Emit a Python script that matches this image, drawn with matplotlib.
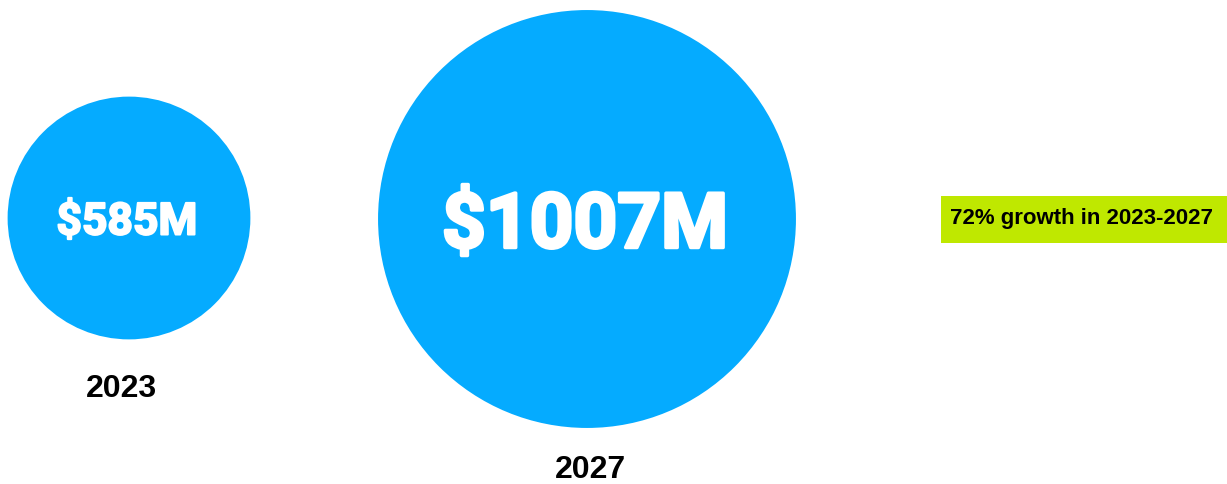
import matplotlib.pyplot as plt
from matplotlib.patches import Circle, Rectangle
import matplotlib.patheffects as pe

# data
years = ['2023', '2027']
values = [585, 1007]
growth_label = '72% growth in 2023-2027'

# layout (pixels)
W, H = 1227, 484
centers_x = [129, 587]
centers_y = [218, 219]
px_per_unit = 0.2075
value_sizes = [32, 55]
year_y = [389, 470]
blue = '#05abff'
lime = '#bfe800'

fig = plt.figure(figsize=(W / 100, H / 100), dpi=100)
ax = fig.add_axes([0, 0, 1, 1])
ax.set_xlim(0, W)
ax.set_ylim(H, 0)
ax.set_aspect('equal')
ax.axis('off')

for cx, cy, v, yr, fs, ty in zip(centers_x, centers_y, values, years, value_sizes, year_y):
    r = v * px_per_unit
    ax.add_patch(Circle((cx, cy), r, color=blue, lw=0))
    ax.text(cx - 2, cy, '${}M'.format(v), color='white', fontsize=fs,
            family='Roboto', fontweight='bold', ha='center', va='center_baseline',
            path_effects=[pe.withStroke(linewidth=fs / 22, foreground='white')])
    ax.text(cx - 8 if yr == '2023' else cx + 3, ty, yr, color='black', fontsize=23,
            family='Liberation Sans', fontweight='bold', ha='center', va='center')

# growth callout
ax.add_patch(Rectangle((941, 196), 286, 47, color=lime, lw=0))
ax.text(950, 218.5, growth_label, color='black', fontsize=16,
        family='Liberation Sans', fontweight='bold', ha='left', va='center')

fig.savefig('out.png', dpi=100)
